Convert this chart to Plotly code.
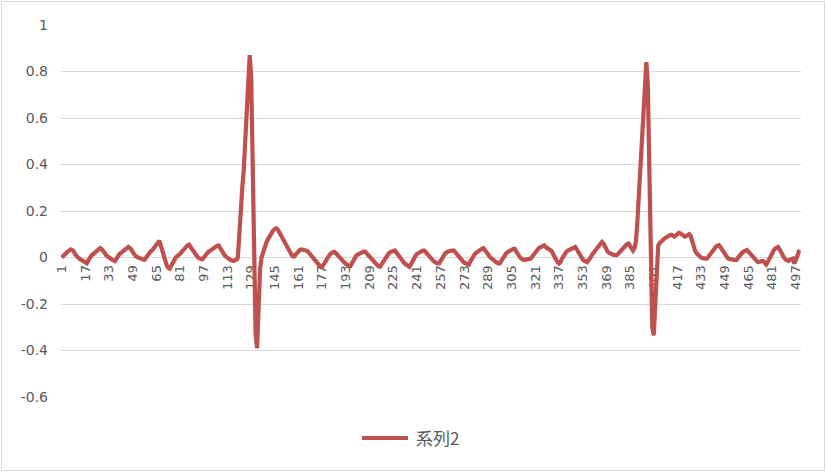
import plotly.graph_objects as go

# Category axis: 1..500
categories = list(range(1, 501))
tick_labels = [str(c) for c in categories[::16]]

y_tick_values = [-0.6, -0.4, -0.2, 0, 0.2, 0.4, 0.6, 0.8, 1]
y_tick_labels = ["-0.6", "-0.4", "-0.2", "0", "0.2", "0.4", "0.6", "0.8", "1"]

series_name = "系列2"
series2 = [
    # 1-20
    0.0, 0.008, 0.015, 0.02, 0.025, 0.03, 0.035, 0.032, 0.028, 0.015, 0.005, 0.0, -0.005, -0.01, -0.015, -0.02, -0.022, -0.025, -0.012, 0.0,
    # 21-40
    0.008, 0.014, 0.02, 0.026, 0.032, 0.037, 0.04, 0.036, 0.03, 0.02, 0.01, 0.004, 0.0, -0.005, -0.009, -0.012, -0.015, -0.005, 0.008, 0.015,
    # 41-60
    0.02, 0.026, 0.032, 0.037, 0.041, 0.045, 0.04, 0.035, 0.022, 0.012, 0.006, 0.002, -0.002, -0.005, -0.007, -0.009, -0.01, 0.0, 0.012, 0.02,
    # 61-80
    0.026, 0.03, 0.038, 0.046, 0.055, 0.063, 0.072, 0.05, 0.025, 0.0, -0.02, -0.035, -0.045, -0.048, -0.035, -0.022, -0.01, 0.0, 0.006, 0.01,
    # 81-100
    0.016, 0.024, 0.032, 0.04, 0.047, 0.052, 0.055, 0.045, 0.033, 0.022, 0.012, 0.005, 0.0, -0.004, -0.007, -0.008, 0.0, 0.01, 0.018, 0.024,
    # 101-120
    0.028, 0.033, 0.038, 0.042, 0.046, 0.05, 0.052, 0.04, 0.028, 0.018, 0.01, 0.004, -0.002, -0.007, -0.01, -0.013, -0.015, -0.012, -0.01, 0.0,
    # 121-140
    0.12, 0.22, 0.3, 0.38, 0.5, 0.63, 0.76, 0.87, 0.78, 0.38, -0.1, -0.33, -0.39, -0.2, -0.05, 0.0, 0.025, 0.045, 0.06, 0.075,
    # 141-160
    0.088, 0.1, 0.11, 0.118, 0.123, 0.125, 0.12, 0.108, 0.094, 0.08, 0.068, 0.055, 0.045, 0.035, 0.025, 0.015, 0.005, 0.004, 0.012, 0.02,
    # 161-180
    0.028, 0.033, 0.035, 0.032, 0.03, 0.03, 0.028, 0.02, 0.01, 0.0, -0.008, -0.015, -0.022, -0.028, -0.033, -0.038, -0.04, -0.03, -0.018, -0.005,
    # 181-200
    0.005, 0.012, 0.018, 0.022, 0.025, 0.02, 0.012, 0.005, -0.002, -0.01, -0.016, -0.022, -0.028, -0.033, -0.036, -0.037, -0.025, -0.012, 0.0, 0.008,
    # 201-220
    0.013, 0.017, 0.02, 0.023, 0.025, 0.025, 0.018, 0.01, 0.002, -0.006, -0.014, -0.022, -0.028, -0.034, -0.038, -0.04, -0.03, -0.018, -0.006, 0.004,
    # 221-240
    0.012, 0.018, 0.023, 0.027, 0.03, 0.03, 0.022, 0.012, 0.003, -0.005, -0.012, -0.02, -0.027, -0.033, -0.037, -0.04, -0.03, -0.015, -0.003, 0.007,
    # 241-260
    0.015, 0.02, 0.025, 0.028, 0.03, 0.03, 0.022, 0.013, 0.005, -0.002, -0.008, -0.014, -0.019, -0.023, -0.025, -0.025, -0.012, 0.0, 0.01, 0.017,
    # 261-280
    0.022, 0.026, 0.028, 0.03, 0.03, 0.03, 0.022, 0.013, 0.005, -0.003, -0.01, -0.016, -0.022, -0.026, -0.029, -0.03, -0.018, -0.005, 0.006, 0.014,
    # 281-300
    0.02, 0.026, 0.031, 0.035, 0.038, 0.04, 0.03, 0.018, 0.012, 0.005, -0.002, -0.008, -0.013, -0.018, -0.022, -0.025, -0.025, -0.015, -0.003, 0.007,
    # 301-320
    0.015, 0.022, 0.027, 0.031, 0.034, 0.037, 0.038, 0.03, 0.018, 0.007, -0.002, -0.008, -0.01, -0.01, -0.009, -0.008, -0.008, -0.005, 0.005, 0.015,
    # 321-340
    0.024, 0.032, 0.038, 0.043, 0.047, 0.05, 0.052, 0.045, 0.04, 0.036, 0.032, 0.028, 0.015, 0.0, -0.012, -0.02, -0.026, -0.02, -0.005, 0.008,
    # 341-360
    0.018, 0.025, 0.03, 0.034, 0.038, 0.042, 0.045, 0.045, 0.035, 0.022, 0.01, 0.0, -0.008, -0.014, -0.018, -0.02, -0.012, 0.0, 0.01, 0.018,
    # 361-380
    0.026, 0.034, 0.042, 0.05, 0.058, 0.067, 0.06, 0.045, 0.03, 0.024, 0.02, 0.016, 0.013, 0.011, 0.01, 0.01, 0.016, 0.024, 0.032, 0.04,
    # 381-400
    0.047, 0.053, 0.058, 0.06, 0.05, 0.04, 0.03, 0.04, 0.07, 0.16, 0.28, 0.4, 0.52, 0.64, 0.76, 0.84, 0.74, 0.35, -0.05, -0.3,
    # 401-420
    -0.335, -0.2, 0.0, 0.05, 0.062, 0.07, 0.076, 0.08, 0.085, 0.09, 0.093, 0.096, 0.098, 0.094, 0.09, 0.095, 0.102, 0.106, 0.104, 0.098,
    # 421-440
    0.094, 0.09, 0.093, 0.097, 0.1, 0.092, 0.07, 0.045, 0.028, 0.018, 0.01, 0.004, 0.0, -0.003, -0.005, -0.005, -0.004, 0.005, 0.015, 0.025,
    # 441-460
    0.033, 0.04, 0.046, 0.051, 0.053, 0.045, 0.035, 0.025, 0.015, 0.006, -0.002, -0.005, -0.008, -0.01, -0.01, -0.01, -0.01, 0.0, 0.01, 0.018,
    # 461-480
    0.022, 0.026, 0.03, 0.032, 0.025, 0.017, 0.01, 0.003, -0.005, -0.012, -0.018, -0.02, -0.015, -0.015, -0.015, -0.025, -0.03, -0.02, -0.005, 0.008,
    # 481-500
    0.02, 0.03, 0.038, 0.044, 0.045, 0.035, 0.02, 0.008, 0.0, -0.008, -0.013, -0.015, -0.01, -0.005, -0.005, -0.026, -0.015, 0.005, 0.025, 0.022,
]

LINE_COLOR = "#C0504D"
GRID = "#D9D9D9"
TEXT = "#595959"

W, H = 826, 472
L, R, T, B = 61, 25, 25, 75
pw, ph = W - L - R, H - T - B

def px_to_paper_x(px):
    return (px - L) / pw

def px_to_paper_y(py):
    return (H - B - py) / ph

y_min, y_max = -0.6, 1.0

fig = go.Figure()
fig.add_trace(go.Scatter(
    x=categories, y=series2, mode="lines", name=series_name,
    line=dict(color=LINE_COLOR, width=4.2), showlegend=False,
    hoverinfo="x+y",
))

fig.update_layout(
    width=W, height=H,
    margin=dict(l=L, r=R, t=T, b=B, pad=0, autoexpand=False),
    paper_bgcolor="white", plot_bgcolor="white",
    font=dict(family="DejaVu Sans", color=TEXT, size=13),
    xaxis=dict(
        range=[0.5, 500.5],
        tickmode="array",
        tickvals=categories[::16],
        ticktext=tick_labels,
        tickangle=-90,
        showgrid=False, zeroline=False,
        showline=False,
        ticks="",
        ticklabelstandoff=4,
        anchor="free",
        position=(0 - y_min) / (y_max - y_min),
        layer="below traces",
        automargin=False,
        tickfont=dict(size=13, color=TEXT),
        fixedrange=True,
    ),
    yaxis=dict(
        range=[y_min, y_max],
        tickmode="array",
        tickvals=y_tick_values,
        ticktext=y_tick_labels,
        showgrid=True, gridcolor=GRID, gridwidth=1,
        zeroline=True, zerolinecolor=GRID, zerolinewidth=1,
        showline=False, ticks="",
        ticklabelstandoff=12,
        automargin=False,
        tickfont=dict(size=14, color=TEXT),
        domain=[0, 1],
        layer="below traces",
        fixedrange=True,
    ),
)

# Legend drawn manually (line sample + label)
ly = px_to_paper_y(438)
fig.add_shape(type="line", xref="paper", yref="paper",
              x0=px_to_paper_x(362), x1=px_to_paper_x(408), y0=ly, y1=ly,
              line=dict(color=LINE_COLOR, width=4))
fig.add_annotation(xref="paper", yref="paper", x=px_to_paper_x(414), y=ly,
                   xanchor="left", yanchor="middle", showarrow=False,
                   text=series_name,
                   font=dict(family="Noto Sans CJK JP", size=17, color=TEXT))

# Chart border
fig.add_shape(type="rect", xref="paper", yref="paper",
              x0=px_to_paper_x(1.5), x1=px_to_paper_x(824.5),
              y0=px_to_paper_y(470.5), y1=px_to_paper_y(1.5),
              line=dict(color=GRID, width=1), fillcolor="rgba(0,0,0,0)", layer="below")

fig.write_html("out.html", config={"displayModeBar": False},
               post_script="document.body.style.margin='0';")
